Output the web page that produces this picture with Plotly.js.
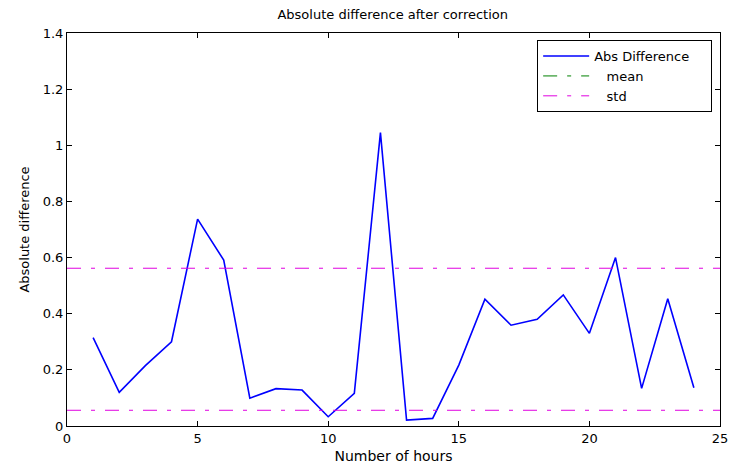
<!DOCTYPE html>
<html>
<head>
<meta charset="utf-8">
<script src="https://cdn.plot.ly/plotly-3.0.1.min.js"></script>
<style>html,body{margin:0;padding:0;background:#fff;}#chart{width:730px;height:467px;}</style>
</head>
<body>
<div id="chart"></div>
<script>
const hours = [1,2,3,4,5,6,7,8,9,10,11,12,13,14,15,16,17,18,19,20,21,22,23,24];
const absDiff = [0.315,0.120,0.215,0.300,0.737,0.591,0.099,0.133,0.128,0.033,0.116,1.045,0.021,0.027,0.217,0.452,0.359,0.380,0.467,0.330,0.600,0.134,0.453,0.136];
const stdUpper = 0.562;
const stdLower = 0.056;
const xLimits = [0, 25];
const yLimits = [0, 1.4];
const xTicks = [0,5,10,15,20,25];
const yTicks = [0,0.2,0.4,0.6,0.8,1,1.2,1.4];
const yTickText = ['0','0.2','0.4','0.6','0.8','1','1.2','1.4'];

const meanValue = absDiff.reduce((a, b) => a + b, 0) / absDiff.length;

const fam = 'DejaVu Sans, Liberation Sans, Arial, sans-serif';
const font = {family: fam, size: 13, color: '#000'};
const tickFont = {family: fam, size: 13, color: '#000'};
const dashStyle = '14px,10px,4px,10px';

const traces = [
  {x: hours, y: absDiff, type: 'scatter', mode: 'lines', name: 'Abs Difference\u00a0\u00a0\u00a0\u00a0',
   line: {color: '#0000ff', width: 1.6}},
  // the mean line appears only in the legend in the reference
  {x: [hours[0]], y: [meanValue], type: 'scatter', mode: 'lines', name: '\u00a0\u00a0\u00a0mean',
   line: {color: '#008000', width: 1, dash: dashStyle}},
  {x: [xLimits[0], xLimits[1], null, xLimits[0], xLimits[1]],
   y: [stdUpper, stdUpper, null, stdLower, stdLower],
   type: 'scatter', mode: 'lines', name: '\u00a0\u00a0\u00a0std', connectgaps: false,
   line: {color: '#e000e0', width: 1, dash: dashStyle}}
];

const axisCommon = {
  showline: true, linecolor: '#000', linewidth: 1, mirror: 'ticks',
  ticks: 'inside', ticklen: 5, tickcolor: '#000', tickwidth: 1,
  showgrid: false, zeroline: false, tickfont: tickFont
};

const layout = {
  width: 730, height: 467,
  margin: {l: 67, r: 10, t: 33, b: 41},
  paper_bgcolor: '#fff', plot_bgcolor: '#fff',
  font: font,
  title: {text: 'Absolute difference after correction', font: {family: fam, size: 13, color: '#000'},
          x: 0.538, xanchor: 'center', y: 0.968, yanchor: 'middle'},
  xaxis: Object.assign({}, axisCommon, {range: xLimits, tickvals: xTicks,
    title: {text: 'Number of hours', font: {family: fam, size: 14, color: '#000'}, standoff: 6}}),
  yaxis: Object.assign({}, axisCommon, {range: yLimits, tickvals: yTicks, ticktext: yTickText,
    title: {text: 'Absolute difference', font: {family: fam, size: 13, color: '#000'}, standoff: 10}}),
  showlegend: true,
  legend: {x: 0.72, y: 0.982, xanchor: 'left', yanchor: 'top', itemwidth: 46,
    bordercolor: '#000', borderwidth: 1, bgcolor: '#fff', font: font, tracegroupgap: 0}
};

Plotly.newPlot('chart', traces, layout, {displayModeBar: false, staticPlot: true});
</script>
</body>
</html>
